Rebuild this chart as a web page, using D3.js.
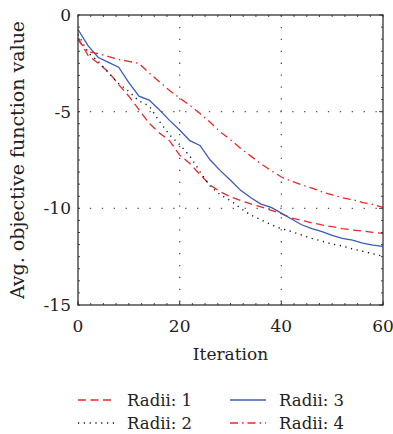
<!DOCTYPE html>
<html>
<head>
  <script src="https://d3js.org/d3.v7.min.js"></script>
  <style>
    body { margin: 0; background: #fff; }
  </style>
</head>
<body>
  <svg width="393" height="434" font-family="'DejaVu Serif', serif" fill="#222"></svg>
  <script>
    // iterations (every 2)
    const iterations = d3.range(0, 61, 2);
    const radii1 = [-1.2, -2.1, -2.5, -2.95, -3.6, -4.2, -4.9, -5.6, -6.1, -6.5, -7.25, -7.68, -8.25, -8.8, -9.15, -9.4,
                    -9.6, -9.77, -9.93, -10.1, -10.28, -10.5, -10.62, -10.75, -10.86, -10.95, -11.05, -11.12, -11.18, -11.24, -11.3];
    const radii2 = [-1.0, -1.95, -2.4, -3.0, -3.55, -3.95, -4.45, -4.7, -5.5, -6.2, -6.7, -7.3, -8.1, -8.85, -9.3, -9.6,
                    -10.0, -10.35, -10.6, -10.85, -11.05, -11.2, -11.38, -11.55, -11.7, -11.85, -11.95, -12.1, -12.22, -12.35, -12.48];
    const radii3 = [-0.75, -1.6, -2.2, -2.45, -2.7, -3.5, -4.2, -4.4, -4.9, -5.45, -5.95, -6.5, -6.75, -7.5, -8.05, -8.55,
                    -9.07, -9.45, -9.78, -9.95, -10.25, -10.55, -10.85, -11.05, -11.2, -11.4, -11.55, -11.65, -11.8, -11.9, -11.97];
    const radii4 = [-1.3, -1.9, -2.0, -2.15, -2.3, -2.4, -2.5, -3.0, -3.45, -3.9, -4.3, -4.67, -5.1, -5.55, -6.05, -6.45,
                    -6.9, -7.3, -7.7, -8.05, -8.38, -8.6, -8.78, -8.95, -9.15, -9.3, -9.45, -9.55, -9.7, -9.8, -9.95];
    const xTicks = [0, 20, 40, 60];
    const yTicks = [0, -5, -10, -15];

    const series = [
      { name: "Radii: 1", values: radii1, color: "#f0262a", dash: "8,4.5" },
      { name: "Radii: 2", values: radii2, color: "#111", dash: "1.2,4.6" },
      { name: "Radii: 3", values: radii3, color: "#3b5bb5", dash: null },
      { name: "Radii: 4", values: radii4, color: "#f0262a", dash: "8,4,1.5,4" }
    ];

    const svg = d3.select("svg");
    const m = { left: 78, right: 10, top: 15, bottom: 129 };
    const w = 393 - m.left - m.right, h = 434 - m.top - m.bottom;
    const g = svg.append("g").attr("transform", `translate(${m.left},${m.top})`);

    const x = d3.scaleLinear().domain([0, 60]).range([0, w]);
    const y = d3.scaleLinear().domain([-15, 0]).range([h, 0]);

    // dotted grid
    const grid = g.append("g").attr("stroke", "#555").attr("stroke-width", 1.3)
      .attr("stroke-dasharray", "1.3,10.6");
    grid.selectAll(".gx").data([20, 40]).enter().append("line")
      .attr("x1", d => x(d)).attr("x2", d => x(d)).attr("y1", 0).attr("y2", h);
    grid.selectAll(".gy").data([-5, -10]).enter().append("line")
      .attr("x1", 0).attr("x2", w).attr("y1", d => y(d)).attr("y2", d => y(d));

    // lines
    const line = d3.line().x((d, i) => x(iterations[i])).y(d => y(d));
    g.selectAll(".series").data(series).enter().append("path")
      .attr("fill", "none")
      .attr("stroke", d => d.color)
      .attr("stroke-width", d => d.dash === "1.2,4.6" ? 1.4 : 1.3)
      .attr("stroke-dasharray", d => d.dash)
      .attr("d", d => line(d.values));

    // axes (ticks inside, minor ticks)
    const minorX = d3.range(0, 60.01, 2.5), minorY = d3.range(-15, 0.01, 0.625);
    const axes = g.append("g").attr("stroke", "#444").attr("stroke-width", 1);
    axes.selectAll(".mxb").data(minorX).enter().append("line")
      .attr("x1", d => x(d)).attr("x2", d => x(d)).attr("y1", h).attr("y2", h - 2);
    axes.selectAll(".mxt").data(minorX).enter().append("line")
      .attr("x1", d => x(d)).attr("x2", d => x(d)).attr("y1", 0).attr("y2", 2);
    axes.selectAll(".myl").data(minorY).enter().append("line")
      .attr("x1", 0).attr("x2", 2).attr("y1", d => y(d)).attr("y2", d => y(d));
    axes.selectAll(".myr").data(minorY).enter().append("line")
      .attr("x1", w).attr("x2", w - 2).attr("y1", d => y(d)).attr("y2", d => y(d));
    axes.selectAll(".Mxb").data(xTicks).enter().append("line")
      .attr("x1", d => x(d)).attr("x2", d => x(d)).attr("y1", h).attr("y2", h - 4);
    axes.selectAll(".Myr").data(yTicks).enter().append("line")
      .attr("x1", w).attr("x2", w - 4).attr("y1", d => y(d)).attr("y2", d => y(d));

    g.append("rect").attr("width", w).attr("height", h)
      .attr("fill", "none").attr("stroke", "#333").attr("stroke-width", 1.3);

    // tick labels
    g.selectAll(".xl").data(xTicks).enter().append("text")
      .attr("x", d => x(d)).attr("y", h + 27).attr("text-anchor", "middle")
      .style("font-size", "17px").text(d => d);
    g.selectAll(".yl").data(yTicks).enter().append("text")
      .attr("x", -7).attr("y", d => y(d) + 6).attr("text-anchor", "end")
      .style("font-size", "17px").text(d => d === 0 ? "0" : "-" + Math.abs(d));

    // axis titles
    g.append("text").attr("x", w / 2).attr("y", h + 55).attr("text-anchor", "middle")
      .style("font-size", "17px").text("Iteration");
    g.append("text").attr("transform", `translate(-54,${h / 2}) rotate(-90)`)
      .attr("text-anchor", "middle").style("font-size", "19px")
      .text("Avg. objective function value");

    // legend
    const leg = svg.append("g");
    const pos = [[78, 406], [78, 429], [230, 406], [230, 429]];
    series.forEach((s, i) => {
      const [lx, ly] = pos[i];
      leg.append("line").attr("x1", lx).attr("x2", lx + 36).attr("y1", ly - 6).attr("y2", ly - 6)
        .attr("stroke", s.color).attr("stroke-width", 1.3).attr("stroke-dasharray", s.dash);
      leg.append("text").attr("x", lx + 49).attr("y", ly).style("font-size", "16.5px").text(s.name);
    });
  </script>
</body>
</html>
